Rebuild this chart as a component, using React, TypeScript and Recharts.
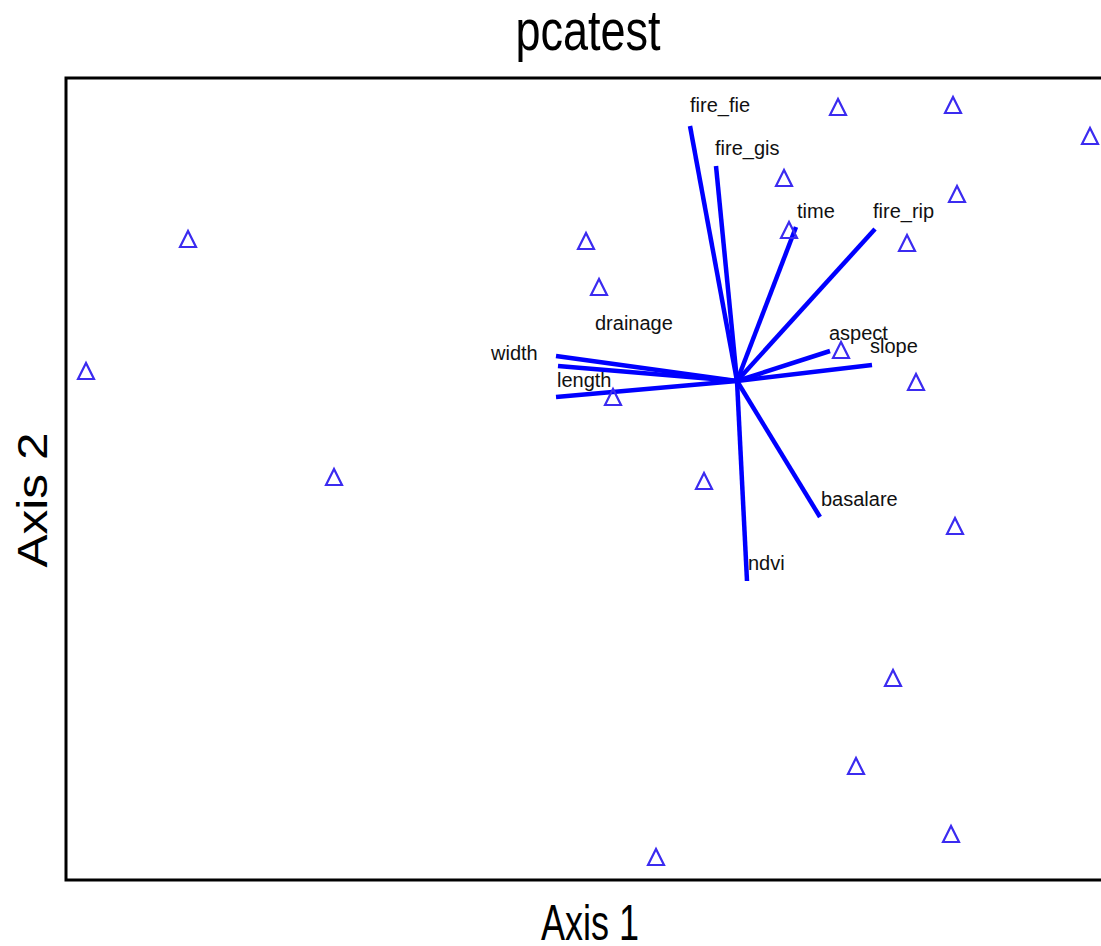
import { ScatterChart, Scatter, XAxis, YAxis, ReferenceLine, ReferenceArea } from 'recharts';

// sample scores (Axis 1, Axis 2)
const scoreX = [1.01, 2.16, 3.53, 0.47, 2.2, -5.49, -1.51, 0.52, 1.7, -1.38, -6.51, 1.04, 1.79, -1.24, -4.03, -0.33, 2.18, 1.56, 1.19, 2.14, -0.81];
const scoreY = [2.73, 2.75, 2.44, 2.02, 1.86, 1.41, 1.39, 1.5, 1.37, 0.93, 0.09, 0.3, -0.02, -0.17, -0.97, -1.01, -1.46, -2.98, -3.86, -4.54, -4.77];

// environmental vectors
const varNames = ['fire_fie', 'fire_gis', 'time', 'fire_rip', 'aspect', 'slope', 'width', 'drainage', 'length', 'basalare', 'ndvi'];
const varX = [-0.47, -0.21, 0.59, 1.38, 0.93, 1.35, -1.81, -1.79, -1.81, 0.83, 0.1];
const varY = [2.55, 2.15, 1.54, 1.52, 0.3, 0.16, 0.25, 0.15, -0.16, -1.36, -2.0];
const labelX = [-0.47, -0.22, 0.6, 1.36, 0.92, 1.33, -2.46, -1.42, -1.8, 0.84, 0.11];
const labelY = [2.76, 2.33, 1.7, 1.7, 0.48, 0.35, 0.28, 0.58, 0.01, -1.18, -1.82];

const xDomain = [-6.71, 3.78];
const yDomain = [-4.99, 3.03];

const points = scoreX.map((x, i) => ({ x, y: scoreY[i] }));
const labels = varNames.map((name, i) => ({ name, x: labelX[i], y: labelY[i] }));

const Triangle = (props: any) => {
  const { cx, cy } = props;
  return (
    <polygon
      points={`${cx - 8},${cy + 7} ${cx},${cy - 9} ${cx + 8},${cy + 7}`}
      fill="none"
      stroke="#3b2bf0"
      strokeWidth={2.2}
    />
  );
};

const VarLabel = (props: any) => {
  const { cx, cy, payload } = props;
  return (
    <text x={cx} y={cy} dominantBaseline="central" fontSize={20} fontFamily="'Liberation Sans', Arial, sans-serif" fill="#111">
      {payload.name}
    </text>
  );
};

export default function App() {
  return (
    <div style={{ position: 'absolute', left: 0, top: 0, width: 1101, height: 946, overflow: 'hidden', background: '#fff' }}>
      <ScatterChart width={1140} height={946} margin={{ top: 78, left: 66, right: 25, bottom: 66 }}>
        <XAxis type="number" dataKey="x" domain={xDomain} hide allowDataOverflow />
        <YAxis type="number" dataKey="y" domain={yDomain} hide allowDataOverflow />
        <ReferenceArea
          x1={xDomain[0]}
          x2={xDomain[1]}
          y1={yDomain[0]}
          y2={yDomain[1]}
          fill="none"
          stroke="#000"
          strokeWidth={3}
          ifOverflow="visible"
        />
        {varNames.map((name, i) => (
          <ReferenceLine
            key={name}
            segment={[{ x: 0, y: 0 }, { x: varX[i], y: varY[i] }]}
            stroke="#0000ff"
            strokeWidth={4.5}
            ifOverflow="visible"
          />
        ))}
        <Scatter data={points} shape={<Triangle />} isAnimationActive={false} />
        <Scatter data={labels} shape={<VarLabel />} isAnimationActive={false} />
      </ScatterChart>
      <svg width={1101} height={946} style={{ position: 'absolute', left: 0, top: 0, pointerEvents: 'none' }}>
        <g fontFamily="'Liberation Sans', Arial, sans-serif" fill="#000">
          <text transform="translate(588,50) scale(1,1.28)" textAnchor="middle" fontSize={45}>pcatest</text>
          <text transform="translate(590,940) scale(1,1.39)" textAnchor="middle" fontSize={36}>Axis 1</text>
          <text transform="translate(47,500) rotate(-90) scale(1.18,1)" textAnchor="middle" fontSize={42}>Axis 2</text>
        </g>
      </svg>
    </div>
  );
}
